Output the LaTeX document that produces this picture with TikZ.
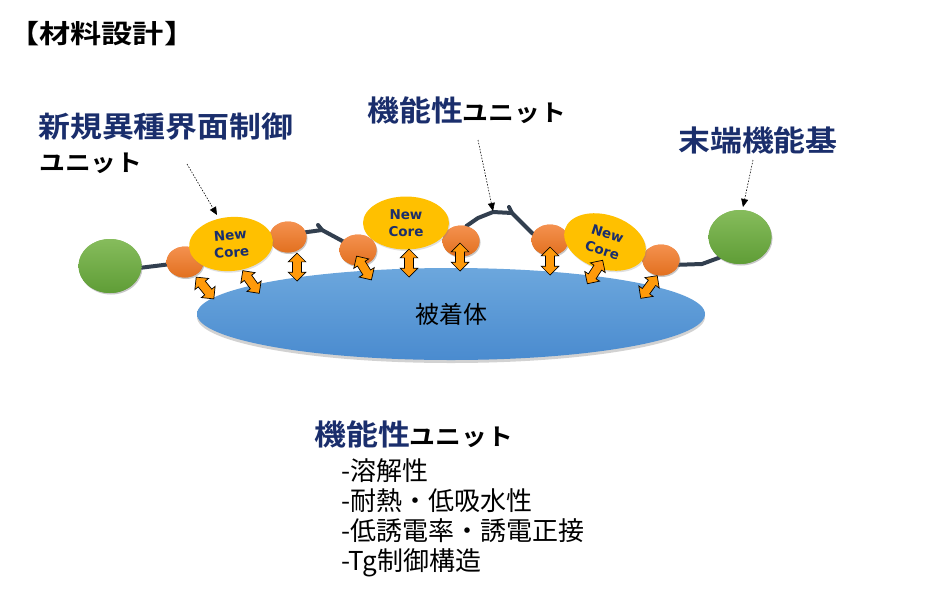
\documentclass[tikz,border=0pt]{standalone}
\usepackage{fontspec}
\usetikzlibrary{shapes.geometric,shapes.arrows,arrows.meta,shadows}
\newfontfamily\jp{Noto Sans CJK JP}
\newfontfamily\jpT[FakeStretch=1.2]{Noto Sans CJK JP Bold}
\newfontfamily\jpL[FakeStretch=1.1]{Noto Sans CJK JP Bold}
\newfontfamily\nc{DejaVu Sans Bold}
\definecolor{navy}{HTML}{1A2E6C}
\definecolor{chainc}{HTML}{323F4F}
\definecolor{arrowor}{HTML}{FF9A0A}
\definecolor{orT}{HTML}{F4914F}
\definecolor{orB}{HTML}{E2701F}
\definecolor{yel}{HTML}{FFC000}
\definecolor{grT}{HTML}{86BC5C}
\definecolor{grB}{HTML}{5F9D36}
\definecolor{blT}{HTML}{6CA7DD}
\definecolor{blB}{HTML}{4A8BCF}
\tikzset{
  ball/.style={ellipse, inner sep=0pt, draw=none,
    drop shadow={opacity=0.25, shadow xshift=1pt, shadow yshift=-1.5pt}},
  orball/.style={ball, top color=orT, bottom color=orB, minimum width=37pt, minimum height=31pt},
  grball/.style={ball, top color=grT, bottom color=grB, minimum width=63pt, minimum height=54pt},
  core/.style={ball, fill=yel, minimum width=84pt, minimum height=54pt, align=center,
    text=navy, font=\nc\fontsize{13.5}{17}\selectfont},
  chain/.style={draw=chainc, line width=4pt, line join=round, line cap=round},
  dbl/.style={double arrow, draw=black, line width=0.7pt, fill=arrowor,
    minimum height=28pt, inner xsep=0pt, inner ysep=4.2pt,
    double arrow head extend=4.3pt, double arrow tip angle=90},
  pointer/.style={draw=black, line width=0.6pt, dash pattern=on 1.5pt off 1.5pt,
    -{Triangle[length=8pt,width=7pt]}},
  txt/.style={anchor=base west, inner sep=0pt}
}
\begin{document}
\begin{tikzpicture}[x=1pt,y=-1pt]
\fill[white] (0,0) rectangle (935,598);
\useasboundingbox (0,0) rectangle (935,598);

% substrate
\node[ellipse, minimum width=508pt, minimum height=92pt, inner sep=0pt,
  top color=blT, bottom color=blB,
  drop shadow={opacity=0.35, shadow xshift=0pt, shadow yshift=-3pt},
  font=\jp\fontsize{24}{24}\selectfont] (body) at (451,314) {被着体};

% chain coordinates
\coordinate (k1) at (322,230);
\coordinate (k1t) at (318,225);
\coordinate (k2) at (478,218);
\coordinate (k3) at (493,212);
\coordinate (k4) at (512,213);
\coordinate (k4t) at (509,207);
\coordinate (k5) at (527,228);
\coordinate (k6) at (702,264);

% balls (named first for chain anchors)
\path
  (110,266) node[grball] (g1) {}
  (740,237) node[grball] (g2) {}
  (185,262) node[orball] (o1) {}
  (288,237) node[orball] (o2) {}
  (358,250) node[orball] (o3) {}
  (461,241) node[orball] (o4) {}
  (550,240) node[orball] (o5) {}
  (661,260) node[orball] (o6) {};

% chain
\draw[chain] (g1.-3) -- (o1.188);
\draw[chain] (o2.15) -- (k1) -- (o3.150);
\draw[chain] (k1) -- (k1t);
\draw[chain] (o4.70) -- (k2) -- (k3) -- (k4) -- (k5) -- (o5.160);
\draw[chain] (k4) -- (k4t);
\draw[chain] (o6.-15) -- (k6) -- (g2.225);

% redraw balls above chain
\path
  (110,266) node[grball] (g1b) {}
  (740,237) node[grball] (g2b) {}
  (185,262) node[orball] (o1b) {}
  (288,237) node[orball] (o2b) {}
  (358,250) node[orball] (o3b) {}
  (461,241) node[orball] (o4b) {}
  (550,240) node[orball] (o5b) {}
  (661,260) node[orball] (o6b) {};

% cores
\node[core, rotate=5] (c1) at (231,244) {New\\Core};
\node[core, minimum width=86pt, minimum height=53pt] (c2) at (406,223) {New\\Core};
\node[core, rotate=-18] (c3) at (605,242) {New\\Core};

% double arrows
\node[dbl, rotate=-51] (a1) at (205,288) {};
\node[dbl, rotate=-54] (a2) at (251,282) {};
\node[dbl, rotate=90] (a3) at (297,267) {};
\node[dbl, rotate=-58] (a4) at (364,268) {};
\node[dbl, rotate=90] (a5) at (409,263) {};
\node[dbl, rotate=90] (a6) at (460,257) {};
\node[dbl, rotate=90] (a7) at (550,261) {};
\node[dbl, rotate=57] (a8) at (595,272) {};
\node[dbl, rotate=54] (a9) at (649,287) {};

% pointers
\coordinate (p1s) at (187,164);
\coordinate (p1e) at (217,215);
\coordinate (p2s) at (478,140);
\coordinate (p2e) at (493,211);
\coordinate (p3s) at (753,160);
\coordinate (p3e) at (743,207);
\draw[pointer] (p1s) -- (p1e);
\draw[pointer] (p2s) -- (p2e);
\draw[pointer] (p3s) -- (p3e);

% texts
\node[txt] (title) at (8,43) {\jpT\fontsize{26}{26}\selectfont 【材料設計】};
\node[txt] (lab1) at (38,137) {\jpL\color{navy}\fontsize{29}{29}\selectfont 新規異種界面制御};
\node[txt] (lab1b) at (39,171) {\jpL\fontsize{23.5}{23.5}\selectfont ユニット};
\node[txt] (lab2) at (367,121) {\jpL{\color{navy}\fontsize{29}{29}\selectfont 機能性}{\fontsize{23.5}{23.5}\selectfont ユニット}};
\node[txt] (lab3) at (678,151) {\jpL\color{navy}\fontsize{29}{29}\selectfont 末端機能基};
\node[txt] (lab4) at (314,445) {\jpL{\color{navy}\fontsize{29}{29}\selectfont 機能性}{\fontsize{23.5}{23.5}\selectfont ユニット}};
\node[txt] (l1) at (341,480) {\jp\fontsize{26}{26}\selectfont -溶解性};
\node[txt] (l2) at (341,510) {\jp\fontsize{26}{26}\selectfont -耐熱・低吸水性};
\node[txt] (l3) at (341,540) {\jp\fontsize{26}{26}\selectfont -低誘電率・誘電正接};
\node[txt] (l4) at (341,570) {\jp\fontsize{26}{26}\selectfont -Tg制御構造};
\end{tikzpicture}
\end{document}
